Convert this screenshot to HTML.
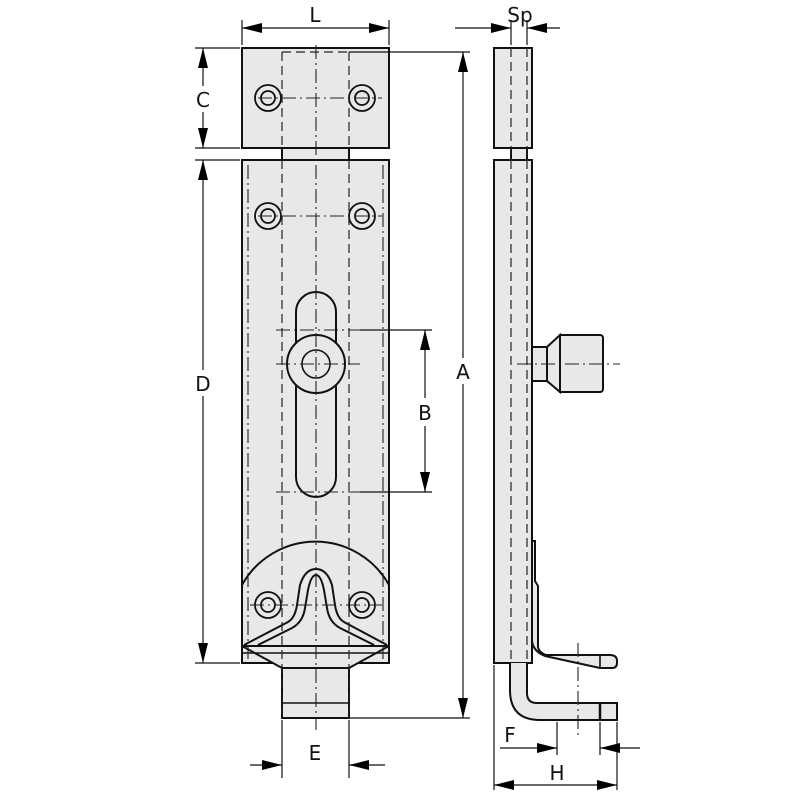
<!DOCTYPE html>
<html><head><meta charset="utf-8"><style>body{margin:0;background:#fff}svg{display:block}text{font-family:"DejaVu Sans","Liberation Sans",sans-serif;font-size:20px;fill:#111}</style></head><body>
<svg width="800" height="800" viewBox="0 0 800 800" xmlns="http://www.w3.org/2000/svg">
<defs><marker id="a" viewBox="0 0 20 10" refX="20" refY="5" markerWidth="20" markerHeight="10" markerUnits="userSpaceOnUse" orient="auto-start-reverse"><path d="M0,0L20,5L0,10z" fill="#000"/></marker></defs>
<g fill="#e8e8e8" stroke="#111" stroke-width="2">
<rect x="282" y="148" width="67" height="12"/>
<rect x="242" y="48" width="147" height="100"/>
<rect x="242" y="160" width="147" height="503"/>
<rect x="282" y="663" width="67" height="55"/>
<path d="M242,646 L389,646 L349,668 L282,668 Z"/>
<rect x="511" y="148" width="16" height="12"/>
<rect x="494" y="48" width="38" height="100"/>
<rect x="494" y="160" width="38" height="503"/>
<path d="M532,347 h15 v34 h-15z"/><path d="M547,347 L560,335 V392 L547,381z"/><path d="M560,335 h40 a3,3 0 0 1 3,3 v51 a3,3 0 0 1 -3,3 h-40z"/>
<path d="M510,663 V690 Q510,720 540,720 H617 V703 H537 Q527,703 527,693 V663"/>
<path d="M532,541 h3 v40 l3,5 v60 q0,6 8,9 L610,655 q7,0 7,6 v2 q0,5 -5,5 H600 L545,656 q-12,-5 -13,-15z"/>
</g>
<g fill="none" stroke="#111" stroke-width="1.6">
<line x1="282" y1="703" x2="349" y2="703"/><line x1="600" y1="703" x2="600" y2="720" stroke-width="2.5"/><line x1="600" y1="655" x2="600" y2="668"/>
<line x1="560" y1="335" x2="560" y2="392"/>
<path d="M242,585 A84,84 0 0 1 389,585" stroke-width="2"/>
<path d="M296,312 a20,20 0 0 1 40,0 V477 a20,20 0 0 1 -40,0z" fill="#e8e8e8" stroke-width="2"/>
<circle cx="316" cy="364" r="29" fill="#e8e8e8" stroke-width="2"/><circle cx="316" cy="364" r="14"/>
<g stroke-width="1.8">
<circle cx="268" cy="98" r="13"/><circle cx="268" cy="98" r="7"/><circle cx="362" cy="98" r="13"/><circle cx="362" cy="98" r="7"/>
<circle cx="268" cy="216" r="13"/><circle cx="268" cy="216" r="7"/><circle cx="362" cy="216" r="13"/><circle cx="362" cy="216" r="7"/>
<circle cx="268" cy="605" r="13" fill="#e8e8e8"/><circle cx="268" cy="605" r="7"/><circle cx="362" cy="605" r="13" fill="#e8e8e8"/><circle cx="362" cy="605" r="7"/>
</g>
<path d="M244,645 L288,622 Q295,618 297,605 L300,585 Q305,569 316,569 Q327,569 332,585 L335,605 Q337,618 344,622 L387,645" stroke-width="2"/>
<path d="M258,645 L292,628 Q303,622 305,608 L308,590 Q311,575 316,575 Q321,575 324,590 L327,608 Q329,622 340,628 L374,645" stroke-width="2"/>
<line x1="242" y1="653" x2="389" y2="653"/>
</g>
<g stroke="#222" stroke-width="1.2" fill="none" stroke-dasharray="9,5">
<line x1="282" y1="160" x2="282" y2="718"/><line x1="349" y1="160" x2="349" y2="718"/>
<line x1="282" y1="52" x2="282" y2="148"/><line x1="349" y1="52" x2="349" y2="148"/>
<line x1="282" y1="52" x2="349" y2="52"/>
<line x1="511" y1="48" x2="511" y2="663"/><line x1="527" y1="48" x2="527" y2="663"/>
</g>
<g stroke="#222" stroke-width="1.1" fill="none" stroke-dasharray="14,4,2,4">
<line x1="316" y1="45" x2="316" y2="730"/><line x1="248" y1="165" x2="248" y2="660"/><line x1="383" y1="165" x2="383" y2="660"/>
<line x1="258" y1="98" x2="382" y2="98"/><line x1="258" y1="216" x2="382" y2="216"/><line x1="250" y1="605" x2="382" y2="605"/>
<line x1="276" y1="364" x2="360" y2="364"/><line x1="276" y1="330" x2="360" y2="330"/><line x1="276" y1="492" x2="360" y2="492"/>
<line x1="517" y1="364" x2="620" y2="364"/><line x1="578" y1="643" x2="578" y2="735"/>
</g>
<g stroke="#111" stroke-width="1.2" fill="none">
<line x1="242" y1="20" x2="242" y2="45"/><line x1="389" y1="20" x2="389" y2="45"/>
<line x1="195" y1="48" x2="240" y2="48"/><line x1="195" y1="148" x2="240" y2="148"/><line x1="195" y1="160" x2="240" y2="160"/><line x1="195" y1="663" x2="240" y2="663"/>
<line x1="349" y1="52" x2="470" y2="52"/><line x1="350" y1="718" x2="470" y2="718"/>
<line x1="360" y1="330" x2="432" y2="330"/><line x1="360" y1="492" x2="432" y2="492"/>
<line x1="282" y1="720" x2="282" y2="778"/><line x1="349" y1="720" x2="349" y2="778"/>
<line x1="511" y1="20" x2="511" y2="45"/><line x1="527" y1="20" x2="527" y2="45"/>
<line x1="494" y1="665" x2="494" y2="790"/><line x1="617" y1="722" x2="617" y2="790"/>
<line x1="557" y1="722" x2="557" y2="755"/><line x1="600" y1="722" x2="600" y2="755"/>
<line x1="242" y1="28" x2="389" y2="28" marker-start="url(#a)" marker-end="url(#a)"/>
<line x1="203" y1="48" x2="203" y2="148" marker-start="url(#a)" marker-end="url(#a)"/>
<line x1="203" y1="160" x2="203" y2="663" marker-start="url(#a)" marker-end="url(#a)"/>
<line x1="463" y1="52" x2="463" y2="718" marker-start="url(#a)" marker-end="url(#a)"/>
<line x1="425" y1="330" x2="425" y2="492" marker-start="url(#a)" marker-end="url(#a)"/>
<line x1="250" y1="765" x2="282" y2="765" marker-end="url(#a)"/><line x1="385" y1="765" x2="349" y2="765" marker-end="url(#a)"/>
<line x1="455" y1="28" x2="511" y2="28" marker-end="url(#a)"/><line x1="560" y1="28" x2="527" y2="28" marker-end="url(#a)"/>
<line x1="500" y1="748" x2="557" y2="748" marker-end="url(#a)"/><line x1="640" y1="748" x2="600" y2="748" marker-end="url(#a)"/>
<line x1="494" y1="785" x2="617" y2="785" marker-start="url(#a)" marker-end="url(#a)"/>
</g>
<g fill="#fff"><rect x="194" y="86" width="18" height="26"/><rect x="194" y="370" width="18" height="26"/><rect x="454" y="358" width="18" height="26"/><rect x="416" y="398" width="18" height="28"/></g>
<text x="315" y="22" text-anchor="middle">L</text>
<text x="203" y="107" text-anchor="middle">C</text>
<text x="203" y="391" text-anchor="middle">D</text>
<text x="463" y="379" text-anchor="middle">A</text>
<text x="425" y="420" text-anchor="middle">B</text>
<text x="315" y="760" text-anchor="middle">E</text>
<text x="520" y="22" text-anchor="middle">Sp</text>
<text x="510" y="742" text-anchor="middle">F</text>
<text x="557" y="780" text-anchor="middle">H</text>
</svg>
</body></html>
